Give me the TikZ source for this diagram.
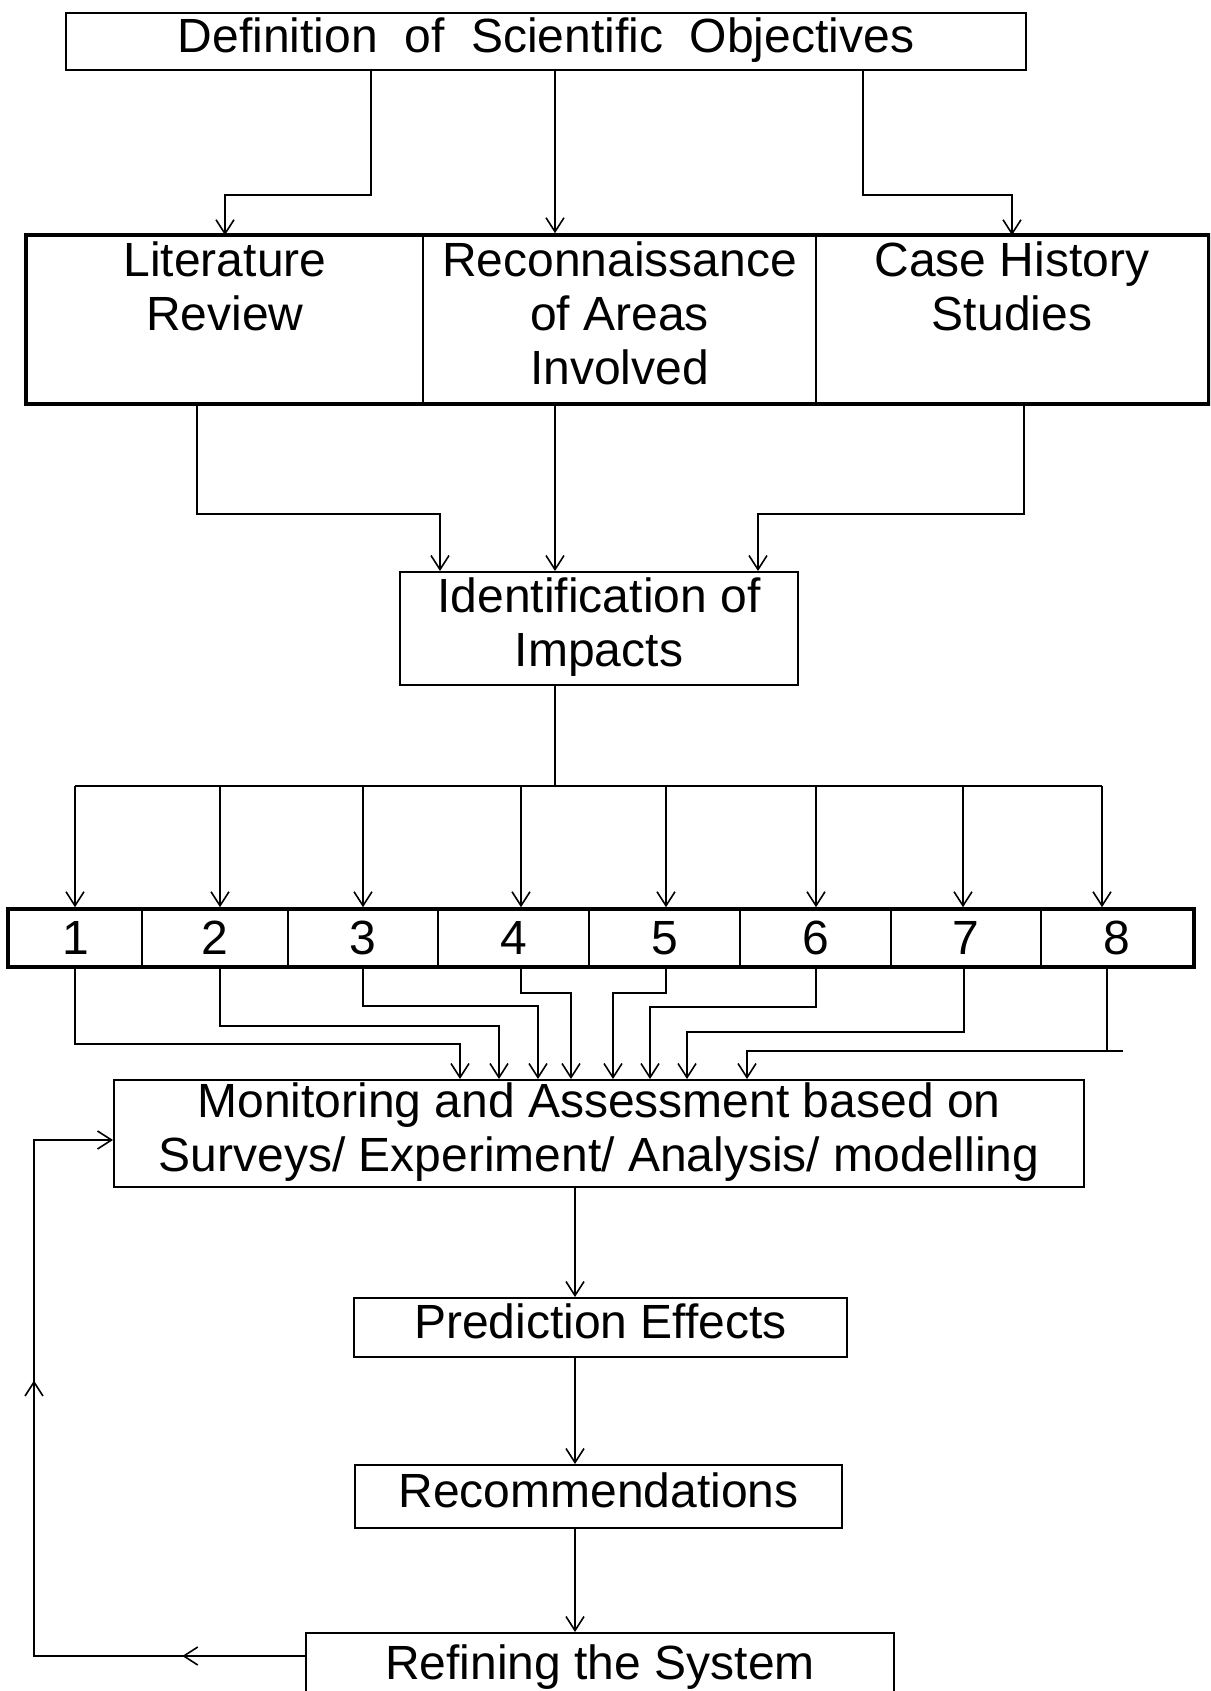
\documentclass[tikz,border=0pt]{standalone}
\usepackage{fontspec}
\setmainfont{Liberation Sans}
\usetikzlibrary{arrows.meta,fit,decorations.markings}
\newcommand{\mystrut}{\rule[-6pt]{0pt}{23.2pt}}
\begin{document}
\begin{tikzpicture}[x=0.5pt,y=-0.5pt,
  >={Straight Barb[length=7pt,width=9pt,line width=0.8pt]},
  every node/.style={font=\fontsize{24}{27}\selectfont},
  box/.style={draw, line width=1pt, inner sep=0pt, align=center},
  cell/.style={draw, line width=0.8pt, inner sep=0pt, align=center},
  frame/.style={draw, line width=2pt, inner sep=0pt},
  plain/.style={line width=0.9pt},
  conn/.style={plain, ->},
  fb/.style={plain, ->, postaction={decorate},
    decoration={markings,
      mark=at position 0.1417 with {\arrow{>}},
      mark=at position 0.631 with {\arrow{>}}}}]
\useasboundingbox (0,0) rectangle (1210,1691);
\clip (0,0) rectangle (1210,1691);

% top box
\node[box, minimum width=480pt, minimum height=28.5pt] (top) at (546,41.5)
  {\mystrut Definition\ \ of\ \ Scientific\ \ Objectives};

% three-box row
\node[cell, minimum width=198pt, minimum height=83.5pt] (lit) at (225,319.5)
  {\mystrut Literature\\Review\\\mystrut};
\node[cell, minimum width=196.5pt, minimum height=83.5pt] (recon) at (619.5,319.5)
  {\mystrut Reconnaissance\\of Areas\\Involved\mystrut};
\node[cell, minimum width=196pt, minimum height=83.5pt] (case) at (1012,319.5)
  {\mystrut Case History\\Studies\\\mystrut};
\node[frame, fit=(lit)(case)] (row) {};

% identification
\node[box, minimum width=199pt, minimum height=56.5pt] (ident) at (599,628.5)
  {\mystrut Identification of\\Impacts\mystrut};

% number row
\node[cell, minimum width=66.5pt, minimum height=28pt] (c1) at (75.5,938) {1};
\node[cell, minimum width=73pt, minimum height=28pt] (c2) at (215,938) {2};
\node[cell, minimum width=75pt, minimum height=28pt] (c3) at (363,938) {3};
\node[cell, minimum width=75.5pt, minimum height=28pt] (c4) at (513.5,938) {4};
\node[cell, minimum width=75.5pt, minimum height=28pt] (c5) at (664.5,938) {5};
\node[cell, minimum width=75.5pt, minimum height=28pt] (c6) at (815.5,938) {6};
\node[cell, minimum width=75pt, minimum height=28pt] (c7) at (966,938) {7};
\node[cell, minimum width=76pt, minimum height=28pt] (c8) at (1117,938) {8};
\node[frame, fit=(c1)(c8)] (numrow) {};

% monitoring and below
\node[box, minimum width=485pt, minimum height=53.5pt] (mon) at (599,1133.5)
  {\mystrut Monitoring and Assessment based on\\Surveys/ Experiment/ Analysis/ modelling\mystrut};
\node[box, minimum width=246.5pt, minimum height=29.5pt] (pred) at (600.5,1327.5)
  {\mystrut Prediction Effects};
\node[box, minimum width=243.5pt, minimum height=31.5pt] (rec) at (598.5,1496.5)
  {\mystrut Recommendations};
\node[box, minimum width=294pt, minimum height=35pt] (ref) at (600,1668)
  {\mystrut Refining the System};

% coordinates
\coordinate (k1) at (371,195);
\coordinate (k2) at (555,195);
\coordinate (k3) at (863,195);
\coordinate (j1) at (197,514);
\coordinate (j1t) at (440,514);
\coordinate (j2) at (555,514);
\coordinate (j3) at (1024,514);
\coordinate (j3t) at (758,514);
\coordinate (bj) at (555,786);
\coordinate (b1) at (75,786);
\coordinate (b2) at (220,786);
\coordinate (b3) at (363,786);
\coordinate (b4) at (521,786);
\coordinate (b5) at (666,786);
\coordinate (b6) at (816,786);
\coordinate (b7) at (963,786);
\coordinate (b8) at (1102,786);
\coordinate (d1) at (75,1044);
\coordinate (d2) at (220,1026);
\coordinate (d3) at (363,1006);
\coordinate (d4) at (521,993);
\coordinate (d5) at (666,993);
\coordinate (d6) at (816,1007);
\coordinate (d7) at (964,1032);
\coordinate (d8) at (1107,1051);
\coordinate (s8) at (1123,1051);
\coordinate (m1) at (460,0);
\coordinate (m2) at (499,0);
\coordinate (m3) at (538,0);
\coordinate (m4) at (571,0);
\coordinate (m5) at (613,0);
\coordinate (m6) at (650,0);
\coordinate (m7) at (687,0);
\coordinate (m8) at (747,0);
\coordinate (v) at (575,0);
\coordinate (f1) at (34,1656);
\coordinate (f2) at (34,1140);

% top to row
\draw[conn] (top.south -| k1) -- (k1) -| (lit.north);
\draw[conn] (top.south -| k2) -- (k2 |- row.north);
\draw[conn] (top.south -| k3) -- (k3) -| (case.north);

% row to identification
\draw[conn] (row.south -| j1) -- (j1) -| (j1t |- ident.north);
\draw[conn] (row.south -| j2) -- (j2 |- ident.north);
\draw[conn] (row.south -| j3) -- (j3) -| (j3t |- ident.north);

% identification to numbers
\draw[plain] (ident.south -| bj) -- (bj);
\draw[plain] (b1) -- (b8);
\foreach \i in {1,...,8} {
  \draw[conn] (b\i) -- (b\i |- numrow.north);
}

% numbers to monitoring
\foreach \i in {1,...,7} {
  \draw[conn] (numrow.south -| d\i) -- (d\i) -| (m\i |- mon.north);
}
\draw[plain] (numrow.south -| d8) -- (d8);
\draw[conn] (s8) -| (m8 |- mon.north);

% chain
\draw[conn] (mon.south -| v) -- (v |- pred.north);
\draw[conn] (pred.south -| v) -- (v |- rec.north);
\draw[conn] (rec.south -| v) -- (v |- ref.north);

% feedback
\draw[fb] (ref.west |- f1) -- (f1) -- (f2) -- (f2 -| mon.west);
\end{tikzpicture}
\end{document}
